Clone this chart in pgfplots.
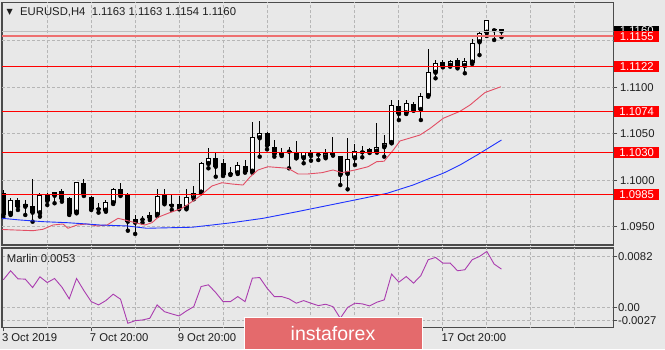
\documentclass[border=0pt]{standalone}
\usepackage{pgfplots}
\pgfplotsset{compat=1.18}
\usepackage{pgfplotstable}
\usepackage{fontspec}
\setmainfont{Liberation Sans}
\newfontfamily\dejavu{DejaVu Sans}
\definecolor{bg}{RGB}{232,232,232}
\definecolor{gridc}{RGB}{182,182,182}
\definecolor{framec}{RGB}{75,75,75}
\definecolor{txt}{RGB}{30,30,30}
\definecolor{lvl}{RGB}{255,0,0}
\definecolor{lvllight}{RGB}{238,112,112}
\definecolor{maRed}{RGB}{226,78,100}
\definecolor{maBlue}{RGB}{30,50,255}
\definecolor{marlin}{RGB}{170,60,175}
\definecolor{wm}{RGB}{228,106,108}
\newcommand\mtfont{\fontsize{11.3pt}{13pt}\selectfont}

\pgfplotstableread{
k O H L C
1 1.09860 1.09896 1.09605 1.09627
3 1.09788 1.09813 1.09681 1.09716
5 1.09727 1.10011 1.09555 1.09652
7 1.09842 1.09860 1.09734 1.09777
9 1.09888 1.09903 1.09770 1.09796
10 1.09806 1.09824 1.09627 1.09638
12 1.09974 1.10011 1.09831 1.09842
13 1.09817 1.09831 1.09681 1.09691
14 1.09705 1.09753 1.09652 1.09688
17 1.09903 1.09968 1.09831 1.09842
18 1.09842 1.09860 1.09458 1.09555
20 1.09581 1.09616 1.09544 1.09577
23 1.09842 1.09903 1.09742 1.09753
24 1.09742 1.09842 1.09681 1.09727
25 1.09742 1.09831 1.09688 1.09699
30 1.10237 1.10290 1.10039 1.10146
31 1.10183 1.10226 1.10046 1.10057
32 1.10071 1.10146 1.10057 1.10068
34 1.10154 1.10218 1.10082 1.10092
37 1.10505 1.10523 1.10333 1.10372
38 1.10355 1.10434 1.10254 1.10280
40 1.10313 1.10361 1.10129 1.10308
41 1.10308 1.10426 1.10237 1.10237
43 1.10297 1.10326 1.10211 1.10261
44 1.10280 1.10297 1.10218 1.10275
46 1.10297 1.10462 1.10265 1.10272
47 1.10265 1.10265 1.09949 1.10057
50 1.10318 1.10372 1.10247 1.10301
51 1.10333 1.10344 1.10294 1.10308
55 1.10802 1.10863 1.10648 1.10713
57 1.10820 1.10845 1.10748 1.10756
61 1.11275 1.11294 1.11215 1.11222
63 1.11294 1.11312 1.11204 1.11215
68 1.11616 1.11624 1.11509 1.11613
69 1.11630 1.11630 1.11540 1.11600
}\bear

\pgfplotstableread{
k O H L C
2 1.09638 1.09810 1.09627 1.09788
4 1.09716 1.09788 1.09627 1.09742
6 1.09645 1.09867 1.09609 1.09842
8 1.09834 1.09877 1.09753 1.09877
11 1.09652 1.09985 1.09645 1.09985
15 1.09673 1.09788 1.09662 1.09770
16 1.09753 1.09920 1.09745 1.09903
19 1.09544 1.09627 1.09423 1.09580
21 1.09591 1.09662 1.09573 1.09627
22 1.09627 1.09903 1.09616 1.09834
26 1.09699 1.09903 1.09688 1.09817
27 1.09806 1.09939 1.09796 1.09860
28 1.09867 1.10200 1.09860 1.10183
29 1.10175 1.10344 1.10129 1.10237
33 1.10075 1.10200 1.10068 1.10165
35 1.10092 1.10630 1.10082 1.10462
36 1.10452 1.10640 1.10254 1.10512
39 1.10272 1.10344 1.10261 1.10308
42 1.10237 1.10308 1.10183 1.10301
45 1.10247 1.10336 1.10237 1.10297
48 1.10068 1.10452 1.09903 1.10226
49 1.10237 1.10387 1.10165 1.10318
52 1.10308 1.10613 1.10297 1.10361
53 1.10355 1.10487 1.10254 1.10398
54 1.10400 1.10863 1.10398 1.10810
56 1.10720 1.10863 1.10713 1.10834
58 1.10756 1.10935 1.10648 1.10906
59 1.10906 1.11409 1.10899 1.11168
60 1.11157 1.11294 1.11097 1.11265
62 1.11232 1.11294 1.11222 1.11286
64 1.11229 1.11312 1.11151 1.11286
65 1.11265 1.11516 1.11251 1.11473
66 1.11484 1.11609 1.11347 1.11581
67 1.11587 1.11724 1.11552 1.11724
}\bull

\pgfplotstableread{
k v
1 0.00383
2 0.00507
3 0.00396
4 0.00392
5 0.00276
6 0.00424
7 0.00345
8 0.00401
9 0.00282
10 0.00121
11 0.00401
12 0.00235
13 0.00083
14 0.00038
15 0.00097
16 0.00185
17 0.00116
18 -0.00215
19 -0.00179
20 -0.00169
21 -0.00146
22 0.00038
23 -0.00055
24 -0.00086
25 -0.00114
26 -0.00045
27 0.00014
28 0.00290
29 0.00314
30 0.00207
31 0.00083
32 0.00083
33 0.00152
34 0.00083
35 0.00406
36 0.00414
37 0.00268
38 0.00152
39 0.00152
40 0.00121
41 0.00061
42 0.00097
43 0.00061
44 0.00028
45 0.00047
46 0.00014
47 -0.00146
48 0.00003
49 0.00061
50 0.00052
51 0.00024
52 0.00075
53 0.00107
54 0.00461
55 0.00351
56 0.00428
57 0.00337
58 0.00442
59 0.00659
60 0.00690
61 0.00613
62 0.00613
63 0.00507
64 0.00521
65 0.00659
66 0.00704
67 0.00773
68 0.00599
69 0.00530
}\marlintab

\begin{document}
\begin{tikzpicture}
\useasboundingbox (0,0) rectangle (665pt,349pt);
\fill[bg] (0,0) rectangle (665pt,349pt);

\begin{axis}[
  at={(2pt,104pt)}, anchor=south west,
  scale only axis, width=611.3pt, height=242.3pt,
  xmin=0.8225, xmax=84.265, ymin=1.09304, ymax=1.11910,
  clip mode=individual,
  axis line style={framec, line width=1.2pt},
  xtick=\empty,
  ytick={1.095,1.100,1.105,1.110},
  yticklabels={1.0950,1.1000,1.1050,1.1100},
  scaled y ticks=false,
  ytick pos=right, yticklabel pos=right,
  tick align=outside, major tick length=4pt,
  tick style={framec, line width=0.8pt},
  yticklabel style={font=\mtfont, text=txt, inner sep=0pt, anchor=west, xshift=2.5pt},
]
% grid lines
\addplot[gridc, densely dashed, line width=1pt, mark=none] coordinates {(7,1.09)(7,1.12)};
\addplot[gridc, densely dashed, line width=1pt, mark=none] coordinates {(13,1.09)(13,1.12)};
\addplot[gridc, densely dashed, line width=1pt, mark=none] coordinates {(19,1.09)(19,1.12)};
\addplot[gridc, densely dashed, line width=1pt, mark=none] coordinates {(25,1.09)(25,1.12)};
\addplot[gridc, densely dashed, line width=1pt, mark=none] coordinates {(31,1.09)(31,1.12)};
\addplot[gridc, densely dashed, line width=1pt, mark=none] coordinates {(37,1.09)(37,1.12)};
\addplot[gridc, densely dashed, line width=1pt, mark=none] coordinates {(43,1.09)(43,1.12)};
\addplot[gridc, densely dashed, line width=1pt, mark=none] coordinates {(49,1.09)(49,1.12)};
\addplot[gridc, densely dashed, line width=1pt, mark=none] coordinates {(55,1.09)(55,1.12)};
\addplot[gridc, densely dashed, line width=1pt, mark=none] coordinates {(61,1.09)(61,1.12)};
\addplot[gridc, densely dashed, line width=1pt, mark=none] coordinates {(67,1.09)(67,1.12)};
\addplot[gridc, densely dashed, line width=1pt, mark=none] coordinates {(73,1.09)(73,1.12)};
\addplot[gridc, densely dashed, line width=1pt, mark=none] coordinates {(79,1.09)(79,1.12)};
\addplot[gridc, densely dashed, line width=1pt, mark=none] coordinates {(0.8,1.095)(84.3,1.095)};
\addplot[gridc, densely dashed, line width=1pt, mark=none] coordinates {(0.8,1.100)(84.3,1.100)};
\addplot[gridc, densely dashed, line width=1pt, mark=none] coordinates {(0.8,1.105)(84.3,1.105)};
\addplot[gridc, densely dashed, line width=1pt, mark=none] coordinates {(0.8,1.110)(84.3,1.110)};
\addplot[gridc, densely dashed, line width=1pt, mark=none] coordinates {(0.8,1.115)(84.3,1.115)};

% wicks
\addplot[only marks, mark=none, forget plot, error bars/.cd, y dir=plus, y explicit, error mark=none,
  error bar style={draw=black, solid, line width=1pt}]
  table[x=k, y=L, y error plus expr={\thisrow{H}-\thisrow{L}}] {\bear};
\addplot[only marks, mark=none, forget plot, error bars/.cd, y dir=plus, y explicit, error mark=none,
  error bar style={draw=black, solid, line width=1pt}]
  table[x=k, y=L, y error plus expr={\thisrow{H}-\thisrow{L}}] {\bull};
% bearish bodies
\addplot[only marks, mark=none, forget plot, error bars/.cd, y dir=plus, y explicit, error mark=none,
  error bar style={draw=black, solid, line width=5pt, line cap=butt}]
  table[x=k, y=C, y error plus expr={max(\thisrow{O}-\thisrow{C},0.00011)}] {\bear};
% bullish bodies: outline, then white interior
\addplot[only marks, mark=none, forget plot, error bars/.cd, y dir=plus, y explicit, error mark=none,
  error bar style={draw=black, solid, line width=5pt, line cap=butt}]
  table[x=k, y=O, y error plus expr={max(\thisrow{C}-\thisrow{O},0.00011)}] {\bull};
\addplot[only marks, mark=none, forget plot, error bars/.cd, y dir=plus, y explicit, error mark=none,
  error bar style={draw=white, solid, line width=3pt, line cap=butt}]
  table[x=k, y expr={\thisrow{O}+0.000108}, y error plus expr={max(\thisrow{C}-\thisrow{O}-0.000216,0)}] {\bull};

% moving averages
\addplot[maRed, line width=0.9pt, mark=none] coordinates {
(0.82,1.09471)(2.37,1.09466)(5.05,1.09458)(6.42,1.09473)(7.78,1.09519)(9.15,1.09530)(9.83,1.09484)
(11.06,1.09519)(12.42,1.09530)(13.79,1.09509)(15.15,1.09519)(16.66,1.09591)(17.61,1.09573)
(18.98,1.09544)(20.34,1.09519)(21.30,1.09544)(22.12,1.09602)(23.49,1.09645)(25.39,1.09699)
(26.76,1.09770)(27.85,1.09831)(28.53,1.09877)(29.49,1.09939)(30.85,1.09974)(32.22,1.09960)
(33.72,1.09949)(34.67,1.10035)(35.77,1.10111)(37.13,1.10146)(39.86,1.10129)(41.23,1.10068)
(42.59,1.10068)(44.50,1.10082)(46.01,1.10111)(47.24,1.10082)(49.01,1.10111)(50.79,1.10146)
(51.97,1.10200)(52.97,1.10205)(53.79,1.10283)(54.24,1.10326)(55.15,1.10423)(56.06,1.10444)
(57.88,1.10487)(59.24,1.10557)(61.06,1.10667)(63.34,1.10742)(64.71,1.10810)(66.75,1.10944)
(68.91,1.11006)};
\addplot[maBlue, line width=0.9pt, mark=none] coordinates {
(0.82,1.09591)(3.28,1.09573)(6.42,1.09555)(9.70,1.09544)(12.42,1.09530)(14.20,1.09519)
(17.89,1.09509)(20.57,1.09484)(26.76,1.09495)(29.49,1.09519)(32.22,1.09544)(36.45,1.09591)
(41.09,1.09662)(45.60,1.09734)(50.10,1.09806)(53.38,1.09860)(56.93,1.09949)(59.25,1.10022)
(61.03,1.10075)(63.35,1.10165)(65.67,1.10272)(69.00,1.10433)};

% bid line and horizontal levels
\addplot[black!25, line width=0.8pt, mark=none] coordinates {(0.8,1.1160)(84.3,1.1160)};
\addplot[lvllight, line width=1.5pt, mark=none] coordinates {(0.8,1.1155)(84.3,1.1155)};
\addplot[lvl, line width=0.9pt, mark=none] coordinates {(0.8,1.1122)(84.3,1.1122)};
\addplot[lvl, line width=0.9pt, mark=none] coordinates {(0.8,1.1074)(84.3,1.1074)};
\addplot[lvl, line width=0.9pt, mark=none] coordinates {(0.8,1.1030)(84.3,1.1030)};
\addplot[lvl, line width=0.9pt, mark=none] coordinates {(0.8,1.0985)(84.3,1.0985)};

% price labels on the right
\tikzset{pricebox/.style={font=\mtfont, text=white, inner sep=0pt, minimum width=45pt,
  minimum height=11pt, anchor=west, xshift=0.7pt}}
\node[pricebox, fill=black, minimum height=9pt, anchor=south west, yshift=-3.5pt] at (axis cs:84.265,1.1160) {1.1160};
\node[pricebox, fill=lvl] at (axis cs:84.265,1.1155) {1.1155};
\node[pricebox, fill=lvl] at (axis cs:84.265,1.1122) {1.1122};
\node[pricebox, fill=lvl] at (axis cs:84.265,1.1074) {1.1074};
\node[pricebox, fill=lvl] at (axis cs:84.265,1.1030) {1.1030};
\node[pricebox, fill=lvl] at (axis cs:84.265,1.0985) {1.0985};

% header
\node[anchor=base west, inner sep=0pt, font=\dejavu\fontsize{8pt}{9pt}\selectfont, text=txt,
  xshift=4.5pt, yshift=-11.6pt] at (rel axis cs:0,1) {▼};
\node[anchor=base west, inner sep=0pt, font=\mtfont, text=txt,
  xshift=18pt, yshift=-13.3pt] at (rel axis cs:0,1) {EURUSD,H4\ \ 1.1163 1.1163 1.1154 1.1160};
\end{axis}

\begin{axis}[
  at={(2pt,21.7pt)}, anchor=south west,
  scale only axis, width=611.3pt, height=79.3pt,
  xmin=0.8225, xmax=84.265, ymin=-0.0027, ymax=0.0082,
  clip mode=individual,
  axis line style={framec, line width=1.2pt},
  xtick={1,13,25,61},
  xticklabels={3 Oct 2019,7 Oct 20:00,9 Oct 20:00,17 Oct 20:00},
  xtick pos=left, ytick pos=right, yticklabel pos=right,
  ytick={-0.00179,0,0.00704}, yticklabels={-0.0027,0.00,0.0082},
  scaled y ticks=false,
  tick align=outside, major tick length=4pt,
  tick style={framec, line width=0.8pt},
  xticklabel style={font=\mtfont, text=txt, inner sep=0pt, anchor=base west, xshift=-1.5pt, yshift=-10pt},
  yticklabel style={font=\mtfont, text=txt, inner sep=0pt, anchor=west, xshift=0.5pt},
  ymajorgrids, major grid style={draw=gridc, densely dashed, line width=1pt},
  extra y tick style={grid=none},
]
\addplot[gridc, densely dashed, line width=1pt, mark=none] coordinates {(7,-0.01)(7,0.01)};
\addplot[gridc, densely dashed, line width=1pt, mark=none] coordinates {(13,-0.01)(13,0.01)};
\addplot[gridc, densely dashed, line width=1pt, mark=none] coordinates {(19,-0.01)(19,0.01)};
\addplot[gridc, densely dashed, line width=1pt, mark=none] coordinates {(25,-0.01)(25,0.01)};
\addplot[gridc, densely dashed, line width=1pt, mark=none] coordinates {(31,-0.01)(31,0.01)};
\addplot[gridc, densely dashed, line width=1pt, mark=none] coordinates {(37,-0.01)(37,0.01)};
\addplot[gridc, densely dashed, line width=1pt, mark=none] coordinates {(43,-0.01)(43,0.01)};
\addplot[gridc, densely dashed, line width=1pt, mark=none] coordinates {(49,-0.01)(49,0.01)};
\addplot[gridc, densely dashed, line width=1pt, mark=none] coordinates {(55,-0.01)(55,0.01)};
\addplot[gridc, densely dashed, line width=1pt, mark=none] coordinates {(61,-0.01)(61,0.01)};
\addplot[gridc, densely dashed, line width=1pt, mark=none] coordinates {(67,-0.01)(67,0.01)};
\addplot[gridc, densely dashed, line width=1pt, mark=none] coordinates {(73,-0.01)(73,0.01)};
\addplot[gridc, densely dashed, line width=1pt, mark=none] coordinates {(79,-0.01)(79,0.01)};
\addplot[marlin, line width=0.9pt, mark=none] table[x=k, y=v] {\marlintab};
\node[anchor=base west, inner sep=0pt, font=\mtfont, text=txt, xshift=4.7pt, yshift=-14pt]
  at (rel axis cs:0,1) {Marlin 0.0053};
\end{axis}

% watermark
\fill[wm] (244.7pt,0) rectangle (422pt,31.7pt);
\draw[white, line width=0.8pt] (244.7pt,-1pt) -- (244.7pt,31.7pt) -- (422pt,31.7pt) -- (422pt,-1pt);
\node[anchor=base, inner sep=0pt, text=white, font=\fontsize{19.5pt}{21pt}\selectfont] at (333pt,9pt) {instaforex};
\end{tikzpicture}
\end{document}
